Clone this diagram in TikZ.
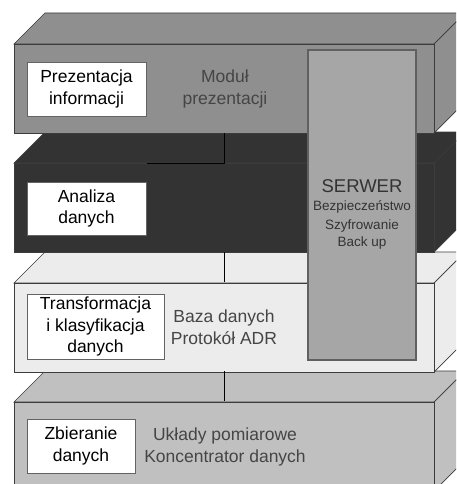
\documentclass[tikz,border=0pt]{standalone}
\usepackage{fontspec}
\setmainfont{Liberation Sans}
\definecolor{warstwaA}{HTML}{8F8F8F}
\definecolor{warstwaB}{HTML}{333333}
\definecolor{warstwaC}{HTML}{ECECEC}
\definecolor{warstwaD}{HTML}{C0C0C0}
\definecolor{serwer}{HTML}{A6A6A6}
\definecolor{krawedz}{HTML}{3C3C3C}
\definecolor{napis}{HTML}{454545}
\tikzset{
  modul/.style={draw=krawedz!80, fill=white, line width=0.8pt, inner sep=0pt,
    align=center, font=\fontsize{17.5}{21.5}\selectfont},
  opis/.style={inner sep=0pt, align=center, text=napis,
    font=\fontsize{17.5}{21.5}\selectfont},
  serwerTekst/.style={inner sep=0pt, anchor=base, text=black!80,
    font=\fontsize{13.5}{16}\selectfont},
  lacze/.style={line width=0.8pt, draw=black}
}
\begin{document}
\begin{tikzpicture}[x=1pt,y=-1pt]
  \useasboundingbox (0,0) rectangle (456,484);
  \clip (0,0) rectangle (456,484);

  % Warstwy (od dolnej do górnej): góra, bok, przód
  \foreach \yy/\kolor in {371/warstwaD, 252/warstwaC, 132/warstwaB, 13/warstwaA}{
    \begin{scope}[shift={(0,\yy)}]
      \filldraw[fill=\kolor, draw=krawedz, line width=0.7pt]
        (14,31) -- (45,0) -- (465,0) -- (434,31) -- cycle;
      \filldraw[fill=\kolor, draw=krawedz, line width=0.7pt]
        (434,31) -- (465,0) -- (465,89) -- (434,120) -- cycle;
      \filldraw[fill=\kolor, draw=krawedz, line width=0.7pt]
        (14,31) rectangle (434,120);
    \end{scope}
  }

  % Punkty połączeń między warstwami
  \coordinate (p1) at (224,133);
  \coordinate (p2) at (224,163);
  \coordinate (p3) at (147,163);
  \coordinate (p4) at (224,252);
  \coordinate (p5) at (224,282);
  \coordinate (p6) at (224,371);
  \coordinate (p7) at (224,401);

  \draw[lacze] (p1) -- (p2) -- (p3);
  \draw[lacze] (p4) -- (p5);
  \draw[lacze] (p6) -- (p7);

  % Serwer
  \node[draw=gray!75!black, fill=serwer, line width=1.6pt, inner sep=0pt,
    minimum width=108pt, minimum height=310pt] (serwer) at (362,205) {};
  \node[serwerTekst, font=\fontsize{18.5}{20}\selectfont] (serwerNazwa)
    at (362,192) {SERWER};
  \node[serwerTekst] (bezp) at (362,210) {Bezpieczeństwo};
  \node[serwerTekst] (szyfr) at (362,229) {Szyfrowanie};
  \node[serwerTekst] (backup) at (362,246) {Back up};

  % Moduły
  \node[modul, minimum width=119pt, minimum height=54pt] (prezentacja)
    at (86.5,89) {Prezentacja\\informacji};
  \node[modul, minimum width=119pt, minimum height=53pt] (analiza)
    at (86.5,208.5) {Analiza\\danych};
  \node[modul, minimum width=137pt, minimum height=65pt] (transformacja)
    at (95.5,326.5) {Transformacja\\i klasyfikacja\\danych};
  \node[modul, minimum width=108pt, minimum height=54pt] (zbieranie)
    at (81,446) {Zbieranie\\danych};

  % Opisy warstw
  \node[opis] (modulPrez) at (225,89) {Moduł\\prezentacji};
  \node[opis] (baza) at (224,327) {Baza danych\\Protokół ADR};
  \node[opis] (uklady) at (225,447) {Układy pomiarowe\\Koncentrator danych};
\end{tikzpicture}
\end{document}
